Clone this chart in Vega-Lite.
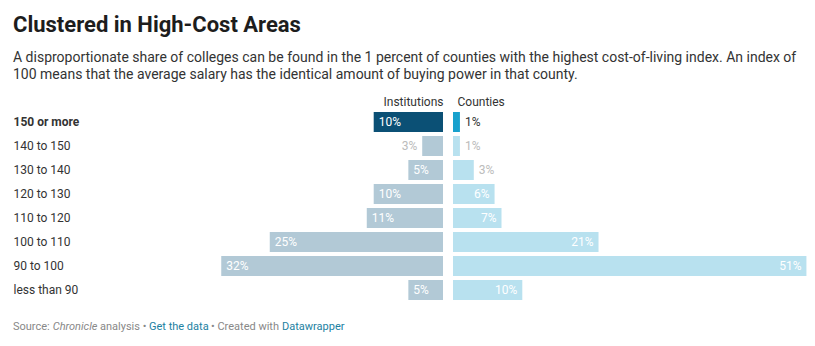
{
  "$schema": "https://vega.github.io/schema/vega-lite/v6.json",
  "padding": {"left": 13, "right": 4, "top": 14, "bottom": 7},
  "config": {
    "font": "Roboto",
    "view": {"stroke": null},
    "axis": {"labelFont": "Roboto", "titleFont": "Roboto"}
  },
  "title": {
    "text": "Clustered in High-Cost Areas",
    "subtitle": [
      "A disproportionate share of colleges can be found in the 1 percent of counties with the highest cost-of-living index. An index of",
      "100 means that the average salary has the identical amount of buying power in that county."
    ],
    "anchor": "start",
    "frame": "bounds",
    "font": "Roboto",
    "fontSize": 22,
    "fontWeight": "bold",
    "color": "#1d1d1d",
    "subtitleFont": "Roboto",
    "subtitleFontSize": 14,
    "subtitleColor": "#333333",
    "subtitlePadding": 14,
    "subtitleLineHeight": 17,
    "offset": 12
  },
  "datasets": {
    "rows": [
      {"range": "150 or more", "inst": 10, "cnt": 1, "instLabel": "10%", "cntLabel": "1%"},
      {"range": "140 to 150", "inst": 3, "cnt": 1, "instLabel": "3%", "cntLabel": "1%"},
      {"range": "130 to 140", "inst": 5, "cnt": 3, "instLabel": "5%", "cntLabel": "3%"},
      {"range": "120 to 130", "inst": 10, "cnt": 6, "instLabel": "10%", "cntLabel": "6%"},
      {"range": "110 to 120", "inst": 11, "cnt": 7, "instLabel": "11%", "cntLabel": "7%"},
      {"range": "100 to 110", "inst": 25, "cnt": 21, "instLabel": "25%", "cntLabel": "21%"},
      {"range": "90 to 100", "inst": 32, "cnt": 51, "instLabel": "32%", "cntLabel": "51%"},
      {"range": "less than 90", "inst": 5, "cnt": 10, "instLabel": "5%", "cntLabel": "10%"}
    ],
    "footer": [
      {"seg": "s1", "t": "Source:"},
      {"seg": "s2", "t": "Chronicle"},
      {"seg": "s3", "t": "analysis \u2022"},
      {"seg": "s4", "t": "Get the data"},
      {"seg": "s5", "t": "\u2022 Created with"},
      {"seg": "s6", "t": "Datawrapper"}
    ]
  },
  "vconcat": [
    {
      "hconcat": [
        {
          "width": 230,
          "height": 192,
          "data": {"name": "rows"},
          "encoding": {
            "y": {
              "field": "range",
              "type": "nominal",
              "sort": null,
              "scale": {"paddingInner": 0.1667, "paddingOuter": 0.0833},
              "axis": {
                "title": null,
                "domain": false,
                "ticks": false,
                "tickSize": 0,
                "labelAlign": "left",
                "labelPadding": 200,
                "labelFontSize": 12,
                "labelColor": "#333333",
                "labelFontWeight": {"condition": {"test": "datum.value === '150 or more'", "value": "bold"}, "value": "normal"}
              }
            }
          },
          "layer": [
            {
              "mark": {"type": "bar"},
              "encoding": {
                "x": {
                  "field": "inst",
                  "type": "quantitative",
                  "scale": {"domain": [0, 33.19], "reverse": true, "nice": false},
                  "axis": {
                    "orient": "top",
                    "title": "Institutions",
                    "labels": false,
                    "ticks": false,
                    "domain": false,
                    "grid": false,
                    "titleX": 230,
                    "titleAlign": "right",
                    "titleBaseline": "alphabetic",
                    "titleY": -5,
                    "titleFontWeight": "normal",
                    "titleFontSize": 12,
                    "titleColor": "#333333"
                  }
                },
                "color": {"condition": {"test": "datum.range === '150 or more'", "value": "#0b5075"}, "value": "#b2c9d6"}
              }
            },
            {
              "transform": [{"filter": "datum.inst >= 5"}],
              "mark": {"type": "text", "align": "left", "baseline": "middle", "dx": 5, "fontSize": 12, "color": "#ffffff"},
              "encoding": {
                "x": {"field": "inst", "type": "quantitative"},
                "text": {"field": "instLabel"}
              }
            },
            {
              "transform": [{"filter": "datum.inst < 5"}],
              "mark": {"type": "text", "align": "right", "baseline": "middle", "dx": -5, "fontSize": 12},
              "encoding": {
                "x": {"field": "inst", "type": "quantitative"},
                "text": {"field": "instLabel"},
                "color": {"condition": {"test": "datum.range === '150 or more'", "value": "#333333"}, "value": "#bbbbbb"}
              }
            }
          ]
        },
        {
          "width": 358,
          "height": 192,
          "data": {"name": "rows"},
          "encoding": {
            "y": {
              "field": "range",
              "type": "nominal",
              "sort": null,
              "scale": {"paddingInner": 0.1667, "paddingOuter": 0.0833},
              "axis": null
            }
          },
          "layer": [
            {
              "mark": {"type": "bar"},
              "encoding": {
                "x": {
                  "field": "cnt",
                  "type": "quantitative",
                  "scale": {"domain": [0, 51.66], "nice": false},
                  "axis": {
                    "orient": "top",
                    "title": "Counties",
                    "labels": false,
                    "ticks": false,
                    "domain": false,
                    "grid": false,
                    "titleAnchor": "start",
                    "titleAlign": "left",
                    "titleBaseline": "alphabetic",
                    "titleX": 4,
                    "titleY": -5,
                    "titleFontWeight": "normal",
                    "titleFontSize": 12,
                    "titleColor": "#333333"
                  }
                },
                "color": {"condition": {"test": "datum.range === '150 or more'", "value": "#18a1cd"}, "value": "#b8e1ef"}
              }
            },
            {
              "transform": [{"filter": "datum.cnt >= 5"}],
              "mark": {"type": "text", "align": "right", "baseline": "middle", "dx": -5, "fontSize": 12, "color": "#ffffff"},
              "encoding": {
                "x": {"field": "cnt", "type": "quantitative"},
                "text": {"field": "cntLabel"}
              }
            },
            {
              "transform": [{"filter": "datum.cnt < 5"}],
              "mark": {"type": "text", "align": "left", "baseline": "middle", "dx": 5, "fontSize": 12},
              "encoding": {
                "x": {"field": "cnt", "type": "quantitative"},
                "text": {"field": "cntLabel"},
                "color": {"condition": {"test": "datum.range === '150 or more'", "value": "#333333"}, "value": "#bbbbbb"}
              }
            }
          ]
        }
      ],
      "spacing": 10,
      "resolve": {"scale": {"x": "independent"}}
    },
    {
      "width": 1,
      "height": 20,
      "data": {"name": "footer"},
      "layer": [
        {"transform": [{"filter": "datum.seg === 's1'"}], "mark": {"type": "text", "align": "left", "baseline": "middle", "fontSize": 11, "color": "#888888", "dx": -200.5}, "encoding": {"text": {"field": "t"}}},
        {"transform": [{"filter": "datum.seg === 's2'"}], "mark": {"type": "text", "align": "left", "baseline": "middle", "fontSize": 11, "color": "#888888", "fontStyle": "italic", "dx": -160.8}, "encoding": {"text": {"field": "t"}}},
        {"transform": [{"filter": "datum.seg === 's3'"}], "mark": {"type": "text", "align": "left", "baseline": "middle", "fontSize": 11, "color": "#888888", "dx": -113.5}, "encoding": {"text": {"field": "t"}}},
        {"transform": [{"filter": "datum.seg === 's4'"}], "mark": {"type": "text", "align": "left", "baseline": "middle", "fontSize": 11, "color": "#1d81a2", "dx": -64.5}, "encoding": {"text": {"field": "t"}}},
        {"transform": [{"filter": "datum.seg === 's5'"}], "mark": {"type": "text", "align": "left", "baseline": "middle", "fontSize": 11, "color": "#888888", "dx": -2.5}, "encoding": {"text": {"field": "t"}}},
        {"transform": [{"filter": "datum.seg === 's6'"}], "mark": {"type": "text", "align": "left", "baseline": "middle", "fontSize": 11, "color": "#1d81a2", "dx": 68.5}, "encoding": {"text": {"field": "t"}}}
      ]
    }
  ],
  "spacing": 15
}
